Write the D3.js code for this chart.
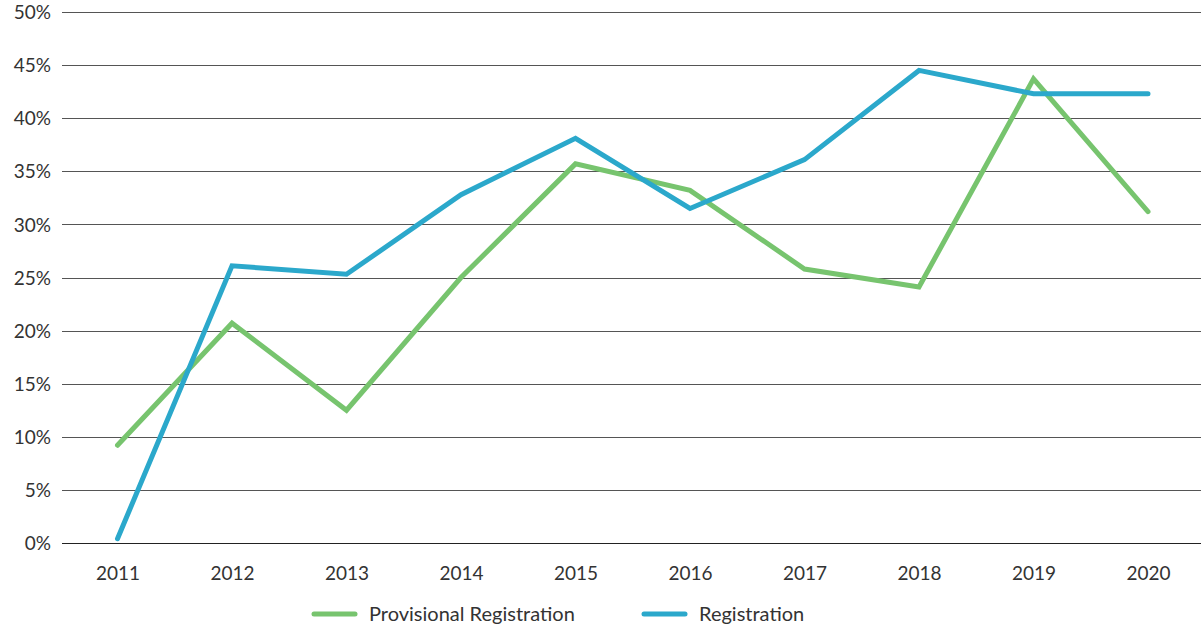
<!DOCTYPE html>
<html><head><meta charset="utf-8">
<script src="https://cdn.jsdelivr.net/npm/d3@7"></script>
<style>body{margin:0;background:#fff}svg{display:block}text{font-family:Lato,"Noto Sans",sans-serif;fill:#333}</style>
</head><body><svg id="c" width="1201" height="627"></svg>
<script>
const years = ["2011","2012","2013","2014","2015","2016","2017","2018","2019","2020"];
const provisional = [9.2,20.7,12.5,25.0,35.7,33.2,25.8,24.1,43.7,31.2];
const registration = [0.4,26.1,25.3,32.8,38.1,31.5,36.1,44.5,42.3,42.3];
const yTicks = [0,5,10,15,20,25,30,35,40,45,50];
const seriesNames = ["Provisional Registration","Registration"];
const colors = ["#77c46e","#2ba8cb"];

const svg = d3.select("#c");
const x = d3.scalePoint().domain(years).range([117.5,1148]);
const y = d3.scaleLinear().domain([0,50]).range([543,12]);

const grid = svg.append("g");
grid.selectAll("line").data(yTicks).join("line")
  .attr("x1",62).attr("x2",1201)
  .attr("y1",d=>Math.round(y(d))+0.5).attr("y2",d=>Math.round(y(d))+0.5)
  .attr("stroke",d=>d===0?"#222":"#555").attr("stroke-width",d=>d===0?1.2:1);

const yAxis = d3.axisLeft(y).tickValues(yTicks).tickFormat(d=>d+"%").tickSize(0).tickPadding(0);
const ya = svg.append("g").attr("transform","translate(51,0)").call(yAxis);
ya.select(".domain").remove();
ya.selectAll("text").attr("font-size",19).attr("dy","0.35em").style("font-family","Lato, 'Noto Sans', sans-serif").attr("fill","#333");

const xAxis = d3.axisBottom(x).tickSize(0).tickPadding(0);
const xa = svg.append("g").attr("transform","translate(0,573)").call(xAxis);
xa.select(".domain").remove();
xa.selectAll("text").attr("font-size",19).attr("dy","0.35em").style("font-family","Lato, 'Noto Sans', sans-serif").attr("fill","#333");

const line = d3.line().x((d,i)=>x(years[i])).y(d=>y(d));
[provisional,registration].forEach((s,i)=>{
  svg.append("path").attr("d",line(s)).attr("fill","none")
    .attr("stroke",colors[i]).attr("stroke-width",5)
    .attr("stroke-linecap","round").attr("stroke-linejoin","miter");
});

const legX = [312,642];
seriesNames.forEach((n,i)=>{
  const g = svg.append("g").attr("transform",`translate(${legX[i]},614)`);
  g.append("line").attr("x1",2).attr("x2",43).attr("stroke",colors[i]).attr("stroke-width",5).attr("stroke-linecap","round");
  g.append("text").attr("x",57).attr("dy","0.35em").attr("font-size",20).text(n);
});
</script></body></html>
